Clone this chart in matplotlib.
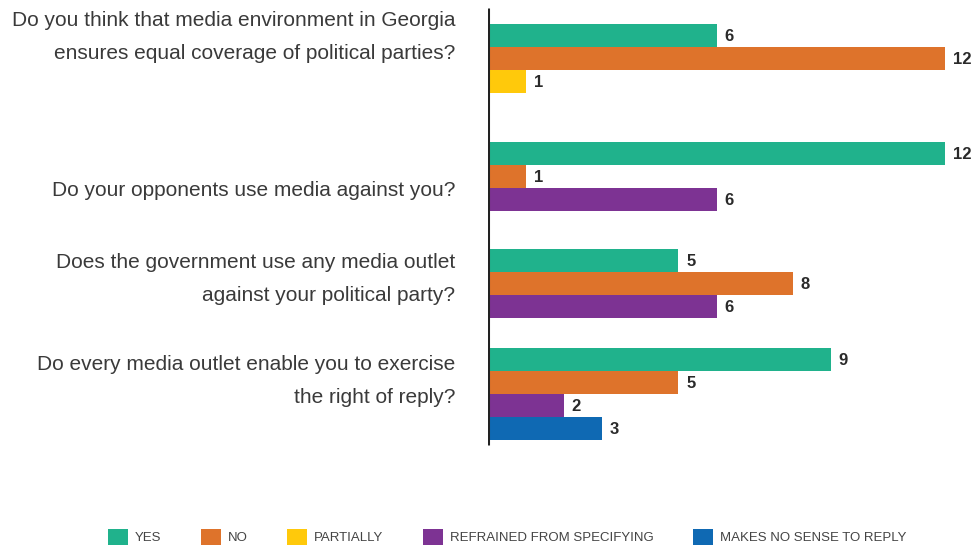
import matplotlib
matplotlib.use("Agg")
import matplotlib.pyplot as plt
from matplotlib.patches import Patch

plt.rcParams["font.family"] = ["Liberation Sans Narrow", "Liberation Sans", "DejaVu Sans"]

# --- data ---
questions = [
    "Do you think that media environment in Georgia\nensures equal coverage of political parties?",
    "Do your opponents use media against you?",
    "Does the government use any media outlet\nagainst your political party?",
    "Do every media outlet enable you to exercise\nthe right of reply?",
]
answers = ["YES", "NO", "PARTIALLY", "REFRAINED FROM SPECIFYING", "MAKES NO SENSE TO REPLY"]
colors = ["#20b28c", "#de732b", "#ffc90b", "#7d3393", "#0f69b3"]
# one row per question, None = answer not shown for that question
values = [
    [6, 12, 1, None, None],
    [12, 1, None, 6, None],
    [5, 8, None, 6, None],
    [9, 5, None, 2, 3],
]

# --- layout (pixel-like units, y grows downwards) ---
W, H = 972, 546
group_top = [24, 142, 249, 348]
label_y = [37, 190, 279, 381]
bar_h = 23

fig = plt.figure(figsize=(W / 100, H / 100), dpi=100)
ax = fig.add_axes([488 / W, 0, (945 - 488) / W, 1])
ax.set_xlim(0, 12)
ax.set_ylim(H, 0)
ax.axis("off")

for g, row in enumerate(values):
    y = group_top[g]
    for k, v in enumerate(row):
        if v is None:
            continue
        yc = y + bar_h / 2
        ax.barh(yc, v, height=bar_h, color=colors[k], linewidth=0)
        ax.text(v + 0.2, yc + 1, str(v), ha="left", va="center",
                fontsize=12, fontweight="semibold", color="#2a2a2a", clip_on=False)
        y += bar_h
    fig.text(455 / W, 1 - label_y[g] / H, questions[g], ha="right", va="center",
             fontsize=15, color="#3a3a3a", linespacing=1.95)

ax.vlines(0, 8, 445, color="#222222", linewidth=2.2)

handles = [Patch(facecolor=c, edgecolor="none") for c in colors]
fig.legend(handles, answers, loc="center", bbox_to_anchor=(507 / W, 1 - 537 / H),
           ncol=5, frameon=False, fontsize=9.5, labelcolor="#444444",
           handlelength=1.5, handleheight=1.6, handletextpad=0.53, columnspacing=3.0)

fig.savefig("out.png", dpi=100)
